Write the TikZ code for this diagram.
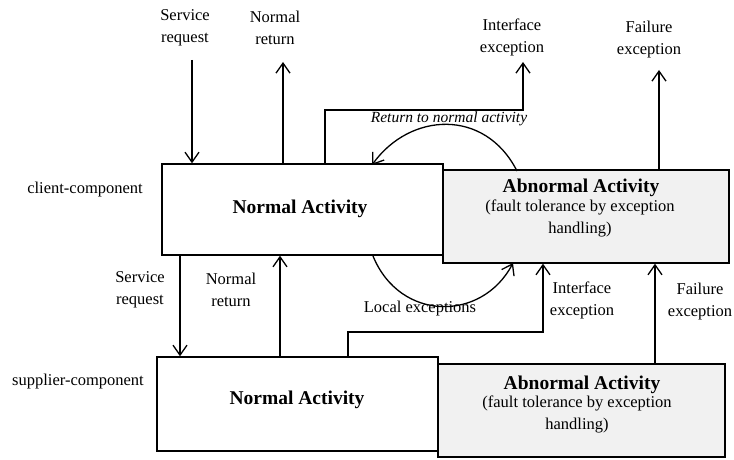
\documentclass[tikz,border=0pt]{standalone}
\usepackage{fontspec}
\setmainfont{Liberation Serif}
\usetikzlibrary{arrows.meta}
\tikzstyle{comp} = [draw, line width=1.4pt, inner sep=0pt, minimum width=281pt]
\tikzstyle{abn} = [comp, fill=gray!11, minimum width=286pt]
\tikzstyle{lbl} = [align=center, inner sep=0pt, font=\fontsize{16.5}{22}\selectfont]
\tikzstyle{big} = [align=center, inner sep=0pt, font=\fontsize{19.5}{21}\selectfont\bfseries]
\tikzstyle{flow} = [line width=1.3pt, -{Straight Barb[length=10pt,width=14pt]}]

\begin{document}
\begin{tikzpicture}[x=1pt,y=-1pt]
			\useasboundingbox (0,0) rectangle (734,460);
			% client-component
			\node[comp, minimum height=91pt] (cnorm) at (302.5,209.5) {};
			\node[abn, minimum height=93pt] (cabn) at (586,216.5) {};
			\node[big] (cnt) at (300,209) {Normal Activity};
			\node[big] (cat) at (581,188) {Abnormal Activity};
			\node[lbl] (cft) at (580,218) {(fault tolerance by exception\\handling)};
			\node[lbl] (cname) at (85,190) {client-component};
			% supplier-component
			\node[comp, minimum height=94pt] (snorm) at (297.5,404) {};
			\node[abn, minimum height=93pt, minimum width=287pt] (sabn) at (581.5,410.5) {};
			\node[big] (snt) at (297,400) {Normal Activity};
			\node[big] (sat) at (582,385) {Abnormal Activity};
			\node[lbl] (sft) at (577,414) {(fault tolerance by exception\\handling)};
			\node[lbl] (sname) at (78,382) {supplier-component};
			% top labels
			\node[lbl] (sr1) at (185,28) {Service\\request};
			\node[lbl] (nr1) at (275,28) {Normal\\return};
			\node[lbl] (ie1) at (512,37) {Interface\\exception};
			\node[lbl] (fe1) at (649,40) {Failure\\exception};
			\node[lbl, font=\fontsize{15.5}{17}\selectfont\itshape] (rna) at (449,119) {Return to normal activity};
			\coordinate (srin) at (192,60);
			\coordinate (nrout) at (283,62);
			\coordinate (ieout) at (523,62);
			\coordinate (feout) at (659,70);
			\coordinate (bend) at (325,110);
			\draw[flow] (srin) -- (srin |- cnorm.north);
			\draw[flow] (nrout |- cnorm.north) -- (nrout);
			\draw[flow] (bend |- cnorm.north) -- (bend) -| (ieout);
			\draw[flow] (517,171) .. controls (485,108) and (410,112) .. (372,165);
			\draw[flow] (feout |- cabn.north) -- (feout);
			% labels between the components
			\node[lbl] (sr2) at (140,290) {Service\\request};
			\node[lbl] (nr2) at (231,290) {Normal\\return};
			\node[lbl] (loc) at (420,309) {Local exceptions};
			\node[lbl] (ie2) at (582,300) {Interface\\exception};
			\node[lbl] (fe2) at (700,302) {Failure\\exception};
			\coordinate (srdn) at (180,300);
			\coordinate (nrup) at (280,300);
			\coordinate (iebend) at (348,332);
			\coordinate (ieup) at (543,300);
			\coordinate (feup) at (655,300);
			\draw[flow] (srdn |- cnorm.south) -- (srdn |- snorm.north);
			\draw[flow] (nrup |- snorm.north) -- (nrup |- cnorm.south);
			\draw[flow] (373,256) .. controls (400,322) and (482,322) .. (513,263);
			\draw[flow] (iebend |- snorm.north) -- (iebend) -| (ieup |- cabn.south);
			\draw[flow] (feup |- sabn.north) -- (feup |- cabn.south);
		\end{tikzpicture}
\end{document}
